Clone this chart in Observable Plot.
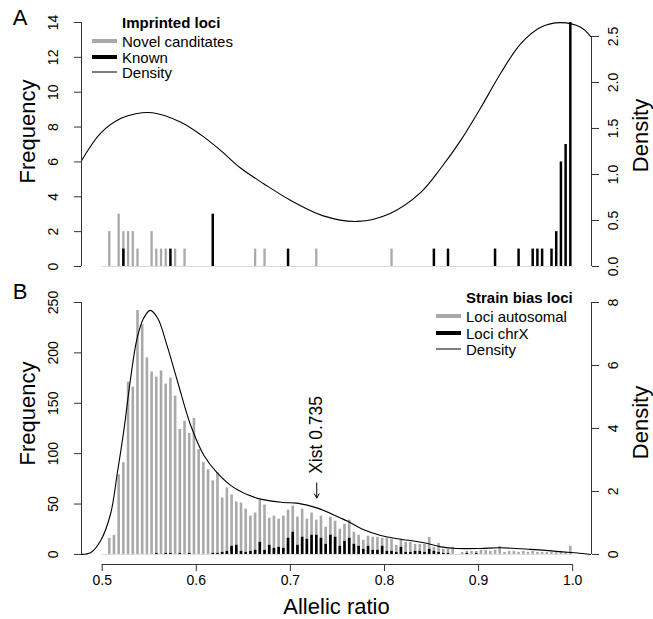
<!DOCTYPE html>
<html><head><meta charset="utf-8">
<script src="https://cdn.jsdelivr.net/npm/d3@7"></script>
<script src="https://cdn.jsdelivr.net/npm/@observablehq/plot@0.6"></script>
<style>
body{margin:0;background:#fff;font-family:"Liberation Sans",Arial,sans-serif;color:#000;}
#wrap{position:relative;width:653px;height:619px;overflow:hidden;}
#wrap svg{position:absolute;left:0;}
.t{position:absolute;white-space:nowrap;font-size:15px;line-height:15px;transform:translateY(-50%);}
.b{font-weight:bold;}
.sw{position:absolute;width:25px;transform:translateY(-50%);}
.letter{position:absolute;font-size:22px;line-height:22px;transform:translate(-50%,-50%);}
</style></head><body><div id="wrap"></div>
<script>
// ---------- Panel A: imprinted loci ----------
const novelRatio = [0.5075,0.5175,0.5225,0.5275,0.5325,0.5375,0.5525,0.5575,0.5625,0.5675,0.5775,0.5875,0.6625,0.6725,0.7275,0.8075];
const novelCount = [2,3,2,2,2,1,2,1,1,1,1,1,1,1,1,1];
const knownRatio = [0.5225,0.5725,0.6175,0.6975,0.8525,0.8675,0.9175,0.9425,0.9575,0.9625,0.9675,0.9775,0.9825,0.9875,0.9925,0.9975];
const knownCount = [1,1,3,1,1,1,1,1,1,1,1,1,2,6,7,14];
const densARatio = [0.478,0.4984,0.520,0.5356,0.5537,0.583,0.605,0.626,0.647,0.6716,0.700,0.735,0.7715,0.8066,0.838,0.860,0.881,0.902,0.9235,0.9447,0.966,0.987,1.0085,1.019];
const densAValue = [1.15,1.45,1.61,1.66,1.67,1.57,1.43,1.26,1.07,0.90,0.72,0.55,0.49,0.58,0.80,1.07,1.37,1.72,2.10,2.42,2.60,2.65,2.60,2.50];
const freqTicksA = [0,2,4,6,8,10,12,14];
const densTicksA = [0,0.5,1.0,1.5,2.0,2.5];

// ---------- Panel B: strain bias loci ----------
const binCenterB = d3.range(99).map(i => +(0.5075 + 0.005 * i).toFixed(4));
const autosomalB = [
  16,19,79,91,171,166,242,228,195,181,
  176,182,169,175,157,124,132,120,135,104,
  91,84,73,81,56,66,59,52,51,45,
  38,41,54,49,36,38,35,38,44,48,
  37,45,35,41,34,38,27,37,33,25,
  30,34,22,19,14,18,17,17,16,16,
  15,9,15,12,12,10,10,10,17,7,
  11,5,5,7,0,2,3,3,3,4,
  4,3,4,8,2,3,3,2,3,2,
  3,2,2,2,2,2,3,2,8];
const chrXB = [
  0,0,0,0,0,0,0,0,0,0,
  1,0,1,1,0,1,0,1,0,0,
  0,0,1,1,2,3,8,9,3,2,
  3,4,12,4,9,6,7,6,16,22,
  9,17,15,19,19,16,10,19,17,8,
  13,16,10,8,5,8,4,4,8,3,
  3,2,7,2,2,3,3,2,5,3,
  2,1,1,0,0,0,1,0,1,0,
  0,0,0,0,0,0,0,0,0,0,
  0,0,0,0,0,0,0,0,0];
const densBRatio = [0.478,0.488,0.4984,0.509,0.516,0.523,0.530,0.537,0.544,0.551,0.559,0.569,0.580,0.594,0.608,0.622,0.640,0.665,0.693,0.707,0.729,0.753,0.761,0.778,0.796,0.814,0.842,0.860,0.877,0.902,0.923,0.955,0.998,1.019];
const densBValue = [0,0.06,0.44,1.30,2.57,3.94,5.55,6.85,7.5,7.75,7.5,6.62,5.5,4.1,3.15,2.6,2.12,1.78,1.65,1.63,1.47,1.16,1.05,0.78,0.60,0.50,0.37,0.24,0.19,0.19,0.21,0.16,0.06,0.0];
const freqTicksB = [0,50,100,150,200,250];
const densTicksB = [0,2,4,6,8];
const ratioTicks = [0.5,0.6,0.7,0.8,0.9,1.0];
const xist = [{ratio: 0.728, label: "Xist 0.735"}];

// ---------- tables ----------
const novel = novelRatio.map((r,i)=>({ratio:r,count:novelCount[i]}));
const known = knownRatio.map((r,i)=>({ratio:r,count:knownCount[i]}));
const densA = densARatio.map((r,i)=>({ratio:r,density:densAValue[i]}));
const binsB = binCenterB.map((r,i)=>({ratio:r,auto:autosomalB[i],chrx:chrXB[i]}));
const densB = densBRatio.map((r,i)=>({ratio:r,density:densBValue[i]}));

const GRAY = "#a9a9a9";
const FONT = "Liberation Sans, Arial, Helvetica, sans-serif";
const xDomain = [0.478, 1.020];
const kA = 5.28;   // frequency units per density unit (panel A twin axis)
const kB = 250/8;  // panel B twin axis

const common = {width:653, marginLeft:81, marginRight:62, style:{fontFamily:FONT, fontSize:"14px", color:"#000", background:"#fff"}};

const plotA = Plot.plot({
  ...common, height:280, marginTop:22, marginBottom:14,
  x:{domain:xDomain, axis:null},
  y:{domain:[0,14], axis:null},
  marks:[
    Plot.ruleY([0], {x1:ratioTicks[0], x2:ratioTicks[ratioTicks.length-1], stroke:"#dcdcdc"}),
    Plot.ruleX(novel, {x:"ratio", y1:0, y2:"count", stroke:GRAY, strokeWidth:2.3}),
    Plot.ruleX(known, {x:"ratio", y1:0, y2:"count", stroke:"#000", strokeWidth:2.5}),
    Plot.line(densA, {x:"ratio", y:d=>d.density*kA, curve:"catmull-rom", stroke:"#000", strokeWidth:1.1, clip:true}),
    Plot.ruleX([xDomain[0]], {y1:freqTicksA[0], y2:freqTicksA[freqTicksA.length-1], stroke:"#333"}),
    Plot.axisY({anchor:"left", ticks:freqTicksA, tickSize:7, tickFormat:()=>"", label:null, stroke:"#333"}),
    Plot.text(freqTicksA, {y:d=>d, text:d=>String(d), frameAnchor:"left", dx:-28, rotate:-90, textAnchor:"middle", lineAnchor:"middle", fontSize:14}),
    Plot.ruleX([xDomain[1]], {y1:densTicksA[0]*kA, y2:densTicksA[densTicksA.length-1]*kA, stroke:"#333"}),
    Plot.axisY({anchor:"right", ticks:densTicksA.map(d=>d*kA), tickSize:7, tickFormat:()=>"", label:null, stroke:"#333"}),
    Plot.text(densTicksA, {y:d=>d*kA, text:d=>d.toFixed(1), frameAnchor:"right", dx:22, rotate:-90, textAnchor:"middle", lineAnchor:"middle", fontSize:14}),
    Plot.text(["Frequency"], {text:d=>d, frameAnchor:"left", dx:-54, dy:-13, rotate:-90, textAnchor:"middle", lineAnchor:"middle", fontSize:22}),
    Plot.text(["Density"], {text:d=>d, frameAnchor:"right", dx:49, dy:-9, rotate:-90, textAnchor:"middle", lineAnchor:"middle", fontSize:22})
  ]
});

const plotB = Plot.plot({
  ...common, height:339, marginTop:22, marginBottom:55,
  x:{domain:xDomain, axis:null},
  y:{domain:[-10,250], axis:null},
  marks:[
    Plot.ruleY([0], {x1:ratioTicks[0], x2:ratioTicks[ratioTicks.length-1], stroke:"#dcdcdc"}),
    Plot.ruleX(binsB, {x:"ratio", y1:0, y2:"auto", stroke:GRAY, strokeWidth:2.6}),
    Plot.ruleX(binsB.filter(d=>d.chrx>0), {x:"ratio", y1:0, y2:"chrx", stroke:"#000", strokeWidth:2.6}),
    Plot.line(densB, {x:"ratio", y:d=>d.density*kB, curve:"catmull-rom", stroke:"#000", strokeWidth:1.1, clip:true}),
    Plot.text(xist, {x:"ratio", y:80, text:"label", rotate:-90, textAnchor:"start", lineAnchor:"middle", fontSize:17.5}),
    Plot.arrow(xist, {x1:"ratio", x2:"ratio", y1:71, y2:56, headLength:7, stroke:"#000", strokeWidth:1}),
    Plot.ruleX([xDomain[0]], {y1:freqTicksB[0], y2:freqTicksB[freqTicksB.length-1], stroke:"#333"}),
    Plot.axisY({anchor:"left", ticks:freqTicksB, tickSize:7, tickFormat:()=>"", label:null, stroke:"#333"}),
    Plot.text(freqTicksB, {y:d=>d, text:d=>String(d), frameAnchor:"left", dx:-28, rotate:-90, textAnchor:"middle", lineAnchor:"middle", fontSize:14}),
    Plot.ruleX([xDomain[1]], {y1:densTicksB[0]*kB, y2:densTicksB[densTicksB.length-1]*kB, stroke:"#333"}),
    Plot.axisY({anchor:"right", ticks:densTicksB.map(d=>d*kB), tickSize:7, tickFormat:()=>"", label:null, stroke:"#333"}),
    Plot.text(densTicksB, {y:d=>d*kB, text:d=>String(d), frameAnchor:"right", dx:22, rotate:-90, textAnchor:"middle", lineAnchor:"middle", fontSize:14}),
    Plot.ruleY([-10], {x1:ratioTicks[0], x2:ratioTicks[ratioTicks.length-1], stroke:"#333"}),
    Plot.axisX({ticks:ratioTicks, tickSize:7, tickPadding:4, tickFormat:d=>d.toFixed(1), label:null, stroke:"#333", fontSize:14}),
    Plot.text(["Allelic ratio"], {text:d=>d, frameAnchor:"bottom", dy:42, lineAnchor:"middle", fontSize:22}),
    Plot.text(["Frequency"], {text:d=>d, frameAnchor:"left", dx:-54, dy:-20, rotate:-90, textAnchor:"middle", lineAnchor:"middle", fontSize:22}),
    Plot.text(["Density"], {text:d=>d, frameAnchor:"right", dx:49, dy:-11, rotate:-90, textAnchor:"middle", lineAnchor:"middle", fontSize:22})
  ]
});

const wrap = document.getElementById("wrap");
plotA.style.top = "0px";
plotB.style.top = "280px";
wrap.appendChild(plotA);
wrap.appendChild(plotB);

function addText(txt, left, top, cls){
  const d = document.createElement("div");
  d.className = cls; d.textContent = txt;
  d.style.left = left+"px"; d.style.top = top+"px";
  wrap.appendChild(d);
}
function addSwatch(left, top, color, h){
  const d = document.createElement("div");
  d.className = "sw"; d.style.left = left+"px"; d.style.top = top+"px";
  d.style.height = h+"px"; d.style.background = color;
  wrap.appendChild(d);
}
// panel letters
const letter = (t,l,tp)=>{const d=document.createElement("div");d.className="letter";d.textContent=t;d.style.left=l+"px";d.style.top=tp+"px";wrap.appendChild(d);};
letter("A", 20, 18);
letter("B", 20, 292);

// legend A
const legendA = {title:"Imprinted loci", items:["Novel canditates","Known","Density"]};
addText(legendA.title, 122, 22, "t b");
[[GRAY,4],["#000",4],["#000",1]].forEach((s,i)=>{
  addSwatch(92, 41+i*15.5, s[0], s[1]);
  addText(legendA.items[i], 122, 41+i*15.5, "t");
});
// legend B
const legendB = {title:"Strain bias loci", items:["Loci autosomal","Loci chrX","Density"]};
addText(legendB.title, 466, 297, "t b");
[[GRAY,4],["#000",4],["#000",1]].forEach((s,i)=>{
  addSwatch(436, 316+i*16.5, s[0], s[1]);
  addText(legendB.items[i], 466, 316+i*16.5, "t");
});
</script>
</body></html>
